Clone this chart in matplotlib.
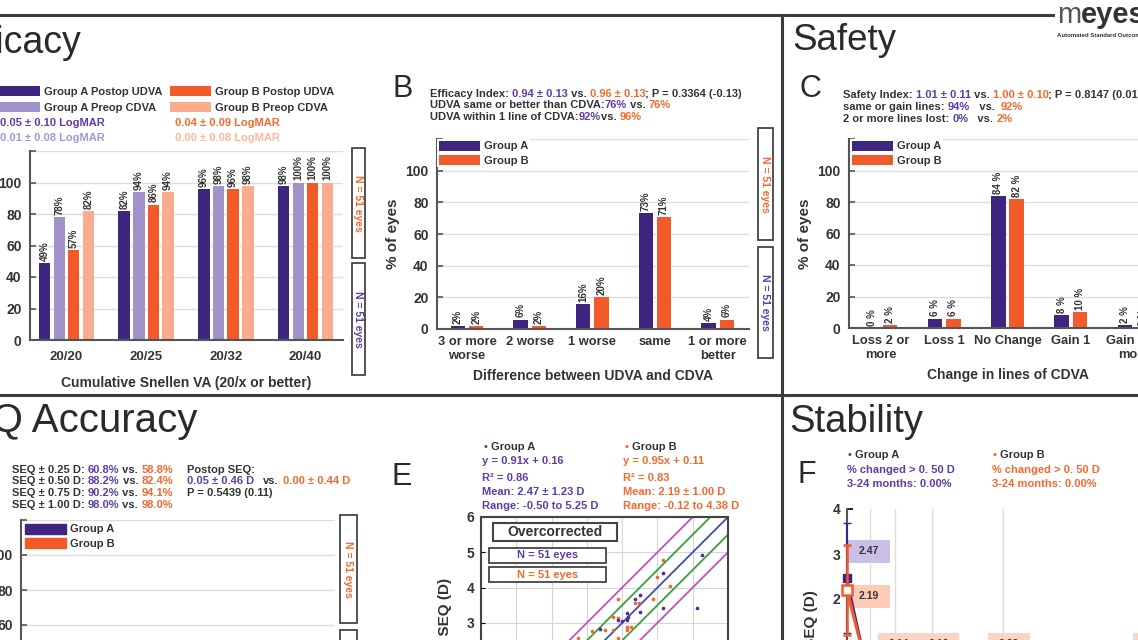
import numpy as np
import matplotlib.pyplot as plt
from matplotlib.patches import Rectangle, Patch

plt.rcParams['font.family'] = ['Liberation Sans', 'DejaVu Sans']
plt.rcParams['font.weight'] = 'bold'
plt.rcParams['axes.labelweight'] = 'bold'

W, H = 1138, 640

# ─── Data ──────────────────────────────────────────────────────────
snellen_cats = ['20/20', '20/25', '20/32', '20/40']
a_postop_udva = [49, 82, 96, 98]
a_preop_cdva = [78, 94, 98, 100]
b_postop_udva = [57, 86, 96, 100]
b_preop_cdva = [82, 94, 98, 100]

diff_cats = ['3 or more\nworse', '2 worse', '1 worse', 'same', '1 or more\nbetter']
diff_a = [2, 6, 16, 73, 4]
diff_b = [2, 2, 20, 71, 6]

cdva_cats = ['Loss 2 or\nmore', 'Loss 1', 'No Change', 'Gain 1', 'Gain 2 or\nmore']
cdva_a = [0, 6, 84, 8, 2]
cdva_b = [2, 6, 82, 10, 0]

# attempted vs achieved SEQ (visible part only)
e_a_att = [5.25, 4.15, 4.15, 5.13, 3.50, 3.36, 3.50, 3.13, 3.17, 3.14, 2.89, 2.37, 2.99]
e_a_ach = [4.92, 4.42, 3.41, 3.41, 3.79, 3.67, 3.32, 3.29, 3.18, 3.08, 3.08, 2.82, 3.04]
e_b_att = [4.15, 3.99, 4.37, 3.88, 2.87, 3.36, 3.49, 2.75, 2.89, 3.13, 3.24, 2.75,
           2.51, 2.14, 1.76, 2.89, 3.13]
e_b_ach = [4.78, 4.29, 4.04, 3.67, 3.67, 3.56, 3.56, 3.18, 3.15, 2.89, 2.89, 2.80,
           2.80, 2.78, 2.56, 2.56, 2.80]
e_band_offsets = [1.0, 0.5, 0.0, -0.5, -1.0]

# stability over time (months)
f_months = [0, 1, 3, 6, 12]
f_a_mean = [2.47, 0.11, 0.13, 0.20, 0.21]
f_a_sd = [1.23, 0.40, 0.41, 0.42, 0.44]
f_b_mean = [2.19, 0.14, 0.16, 0.23, 0.22]
f_b_sd = [1.00, 0.38, 0.40, 0.41, 0.44]
# ────────────────────────────────────────────────────────────────────

dark = '#333333'
frame = '#3c3c3c'
cA, cA2 = '#3d2580', '#a391c9'
cB, cB2 = '#f25a2a', '#fbab8e'
tA, tA2 = '#5e3ca6', '#a795d6'
tB, tB2 = '#f4682e', '#fbb79c'

fig = plt.figure(figsize=(W / 100, H / 100), dpi=100)
fig.patch.set_facecolor('white')

# overlay axes in pixel coordinates for frames and free text
ov = fig.add_axes([0, 0, 1, 1], zorder=10)
ov.set_xlim(0, W)
ov.set_ylim(H, 0)
ov.axis('off')


def add_ax(l, t, r, b):
    return fig.add_axes([l / W, 1 - b / H, (r - l) / W, (b - t) / H])


def rich(x, y, parts, size=8):
    t = None
    for p in parts:
        s, c = p[0], p[1]
        w = p[2] if len(p) > 2 else 'bold'
        if t is None:
            t = ov.text(x, y, s, color=c, fontsize=size, fontweight=w,
                        va='baseline', ha='left')
        else:
            t = ov.annotate(s, xy=(1, 0), xycoords=t, va='bottom', ha='left',
                            color=c, fontsize=size, fontweight=w)
    return t


def n_box(x0, y0, x1, y1, color):
    ov.add_patch(Rectangle((x0, y0), x1 - x0, y1 - y0, fc='white', ec='#444444', lw=1.3))
    ov.text((x0 + x1) / 2, (y0 + y1) / 2, 'N = 51 eyes', rotation=-90,
            ha='center', va='center', color=color, fontsize=7.5)


def bar_panel(ax, xlim):
    ax.set_xlim(*xlim)
    ax.set_ylim(0, 120)
    ax.set_yticks(np.arange(0, 121, 20))
    ax.set_yticklabels(['0', '20', '40', '60', '80', '100', ''])
    ax.grid(axis='y', color='#dddddd', lw=1.0)
    ax.set_axisbelow(True)
    ax.spines[['top', 'right']].set_visible(False)
    for s in ['left', 'bottom']:
        ax.spines[s].set_color('#555555')
        ax.spines[s].set_linewidth(1.5)
    ax.tick_params(axis='y', direction='in', length=4, width=1.2, color='#555555',
                   labelsize=10, labelcolor=dark, pad=6)
    ax.tick_params(axis='x', length=0, labelsize=9.3, labelcolor=dark, pad=5)


leg_kw = dict(fontsize=8, handlelength=3.7, handleheight=1.0, handletextpad=0.35,
              labelspacing=0.3, borderpad=0.15, borderaxespad=0, fancybox=False,
              framealpha=1, facecolor='white', edgecolor='none', labelcolor=dark,
              bbox_transform=ov.transData, loc='upper left')

# ─── Frames, titles, logo ───────────────────────────────────────────
ov.plot([0, 1053], [15, 15], color=frame, lw=2.2)
ov.plot([782, 782], [15, 640], color=frame, lw=2.2)
ov.plot([0, 1138], [395, 395], color=frame, lw=2.2)

for s, x, y, ha, fs in [('Efficacy', 82, 53, 'right', 27), ('Safety', 792, 50, 'left', 26.5),
                        ('SEQ Accuracy', 197, 432, 'right', 29), ('Stability', 789, 432, 'left', 27.5)]:
    ov.text(x, y, s, ha=ha, va='baseline', fontsize=fs, fontweight='normal', color='#2a2a2a')
for s, x, y in [('B', 393, 97), ('C', 800, 97), ('E', 392, 485), ('F', 798, 483)]:
    ov.text(x, y, s, ha='left', va='baseline', fontsize=22, fontweight='normal', color='#2a2a2a')

rich(1057, 23, [('m', '#555555', 'normal'), ('eyes', dark, 'bold')], size=21)
ov.text(1057, 36.5, 'Automated Standard Outcome Reporting', fontsize=4.3, color=dark,
        va='baseline')

# ─── A: cumulative Snellen ──────────────────────────────────────────
axA = add_ax(30, 151, 343, 340)
xa = np.arange(len(snellen_cats))
series = [(a_postop_udva, cA, 'Group A Postop UDVA'), (a_preop_cdva, cA2, 'Group A Preop CDVA'),
          (b_postop_udva, cB, 'Group B Postop UDVA'), (b_preop_cdva, cB2, 'Group B Preop CDVA')]
for (vals, col, lab), o in zip(series, [-0.275, -0.09, 0.09, 0.275]):
    bars = axA.bar(xa + o, vals, 0.145, color=col, label=lab)
    axA.bar_label(bars, labels=[f'{v}%' for v in vals], rotation=90, padding=1.5,
                  fontsize=7, color=dark)
axA.set_xticks(xa, snellen_cats)
bar_panel(axA, (-0.458, 3.47))
axA.tick_params(axis='x', pad=8, labelsize=9.5)
axA.set_xlabel('Cumulative Snellen VA (20/x or better)', fontsize=10, color=dark, labelpad=9)
axA.legend(bbox_to_anchor=(-1, 86.5), ncol=2, columnspacing=0.7,
           **{**leg_kw, 'framealpha': 0, 'borderpad': 0, 'labelspacing': 0.42})
ov.text(0, 126, '0.05 ± 0.10 LogMAR', color=tA, fontsize=8, va='baseline')
ov.text(0, 141, '0.01 ± 0.08 LogMAR', color=tA2, fontsize=8, va='baseline')
ov.text(175, 126, '0.04 ± 0.09 LogMAR', color=tB, fontsize=8, va='baseline')
ov.text(175, 141, '0.00 ± 0.08 LogMAR', color=tB2, fontsize=8, va='baseline')
n_box(352, 148, 365, 258, tB)
n_box(352, 263, 365, 375, tA)

# ─── B: UDVA vs CDVA ────────────────────────────────────────────────
axB = add_ax(437, 139, 749, 329)
xb = np.arange(len(diff_cats))
ba = axB.bar(xb - 0.145, diff_a, 0.23, color=cA, label='Group A')
bb = axB.bar(xb + 0.145, diff_b, 0.23, color=cB, label='Group B')
for bars, vals in [(ba, diff_a), (bb, diff_b)]:
    axB.bar_label(bars, labels=[f'{v}%' for v in vals], rotation=90, padding=1.5,
                  fontsize=7, color=dark)
axB.set_xticks(xb, diff_cats)
bar_panel(axB, (-0.48, 4.5))
axB.set_ylabel('% of eyes', fontsize=11, color=dark, labelpad=4)
axB.set_xlabel('Difference between UDVA and CDVA', fontsize=10, color=dark, labelpad=5)
axB.legend(bbox_to_anchor=(437, 139), **leg_kw)
rich(430, 97, [('Efficacy Index: ', dark), ('0.94 ± 0.13', tA), (' vs. ', dark),
               ('0.96 ± 0.13', tB), ('; P = 0.3364 (-0.13)', dark)])
rich(430, 108.5, [('UDVA same or better than CDVA:', dark), ('76%', tA), (' vs. ', dark), ('76%', tB)])
rich(430, 120, [('UDVA within 1 line of CDVA:', dark), ('92%', tA), ('vs. ', dark), ('96%', tB)])
n_box(758, 128, 773, 240, tB)
n_box(758, 247, 773, 358, tA)

# ─── C: change in CDVA lines ────────────────────────────────────────
axC = add_ax(849, 139, 1166, 328)
xc = np.arange(len(cdva_cats))
ca = axC.bar(xc - 0.145, cdva_a, 0.23, color=cA, label='Group A')
cb = axC.bar(xc + 0.145, cdva_b, 0.23, color=cB, label='Group B')
for bars, vals in [(ca, cdva_a), (cb, cdva_b)]:
    axC.bar_label(bars, labels=[f'{v} %' for v in vals], rotation=90, padding=1.5,
                  fontsize=7, color=dark)
axC.set_xticks(xc, cdva_cats)
bar_panel(axC, (-0.5, 4.5))
axC.set_ylabel('% of eyes', fontsize=11, color=dark, labelpad=4)
axC.set_xlabel('Change in lines of CDVA', fontsize=10, color=dark, labelpad=5)
axC.legend(bbox_to_anchor=(850, 139), **leg_kw)
rich(843, 98.5, [('Safety Index: ', dark), ('1.01 ± 0.11', tA), (' vs. ', dark),
                 ('1.00 ± 0.10', tB), ('; P = 0.8147 (0.01)', dark)])
rich(843, 110, [('same or gain lines: ', dark), ('94%', tA), ('   vs.  ', dark), ('92%', tB)])
rich(843, 121.5, [('2 or more lines lost: ', dark), ('0%', tA), ('   vs. ', dark), ('2%', tB)])

# ─── D: SEQ accuracy ────────────────────────────────────────────────
axD = add_ax(21, 520, 335, 730)
bar_panel(axD, (-0.5, 5.5))
axD.set_xticks([])
axD.legend(handles=[Patch(color=cA, label='Group A'), Patch(color=cB, label='Group B')],
           bbox_to_anchor=(23, 522), **leg_kw)
rich(12, 473, [('SEQ ± 0.25 D: ', dark), ('60.8%', tA), (' vs. ', dark), ('58.8%', tB)])
rich(12, 484.5, [('SEQ ± 0.50 D: ', dark), ('88.2%', tA), (' vs. ', dark), ('82.4%', tB)])
rich(12, 496, [('SEQ ± 0.75 D: ', dark), ('90.2%', tA), (' vs. ', dark), ('94.1%', tB)])
rich(12, 507.5, [('SEQ ± 1.00 D: ', dark), ('98.0%', tA), (' vs. ', dark), ('98.0%', tB)])
ov.text(187, 473, 'Postop SEQ:', color=dark, fontsize=8, va='baseline')
ov.text(187, 484.5, '0.05 ± 0.46 D', color=tA, fontsize=8, va='baseline')
ov.text(263, 484.5, 'vs.', color=dark, fontsize=8, va='baseline')
ov.text(283, 484.5, '0.00 ± 0.44 D', color=tB, fontsize=8, va='baseline')
ov.text(187, 496, 'P = 0.5439 (0.11)', color=dark, fontsize=8, va='baseline')
n_box(340, 515, 357, 623, tB)
n_box(340, 630, 357, 745, tA)

# ─── E: attempted vs achieved ───────────────────────────────────────
axE = add_ax(481, 517, 728, 764)
line_x = np.array([-1.0, 6.0])
for off, col in zip(e_band_offsets, ['#c050c0', '#3a9e3a', '#3a4cc0', '#3a9e3a', '#c050c0']):
    axE.plot(line_x, line_x + off, color=col, lw=1.3)
axE.scatter(e_b_att, e_b_ach, s=7, color=tB, zorder=3, linewidths=0)
axE.scatter(e_a_att, e_a_ach, s=7, color='#4b2ea0', zorder=3, linewidths=0)
axE.set_xlim(-1, 6)
axE.set_ylim(-1, 6)
axE.set_xticks(range(-1, 7))
axE.set_yticks(range(-1, 7))
axE.grid(color='#d5d5d5', lw=0.8)
axE.set_axisbelow(True)
for s in axE.spines.values():
    s.set_color('#444444')
    s.set_linewidth(1.5)
axE.tick_params(direction='in', length=3, labelsize=10, labelcolor=dark, pad=5)
ov.text(445, 578, 'Achieved SEQ (D)', rotation=90, ha='center', va='top', fontsize=11, color=dark)
for x0, col, grp, txt in [(482, tA, 'Group A', ['y = 0.91x + 0.16', 'R² = 0.86', 'Mean: 2.47 ± 1.23 D',
                                               'Range: -0.50 to 5.25 D']),
                          (623, tB, 'Group B', ['y = 0.95x + 0.11', 'R² = 0.83', 'Mean: 2.19 ± 1.00 D',
                                               'Range: -0.12 to 4.38 D'])]:
    rich(x0 + 2, 450, [('• ', col), (grp, dark)])
    for i, s in enumerate(txt):
        ov.text(x0, [464, 481, 495, 509][i], s, color=col, fontsize=8, va='baseline')
ov.add_patch(Rectangle((493, 523), 124, 18, fc='white', ec='#444444', lw=1.5))
ov.text(555, 532.5, 'Overcorrected', ha='center', va='center', fontsize=10, color=dark)
for y0, col in [(548, tA), (567, tB)]:
    ov.add_patch(Rectangle((489, y0), 117, 14.5, fc='white', ec='#444444', lw=1.3))
    ov.text(547.5, y0 + 7.5, 'N = 51 eyes', ha='center', va='center', fontsize=8, color=col)

# ─── F: stability ───────────────────────────────────────────────────
axF = add_ax(847, 509, 1164, 734)
ebA = axF.errorbar(f_months, f_a_mean, yerr=f_a_sd, color=cA, lw=1.3, elinewidth=1.5, capsize=3,
                   marker='s', ms=6, mfc=cA, mec=cA, zorder=3)
ebB = axF.errorbar(f_months, f_b_mean, yerr=f_b_sd, color=cB, lw=2.2, elinewidth=1.8, capsize=3,
                   marker='s', ms=6.5, mfc='white', mec=cB, mew=1.8, zorder=4)
for eb in (ebA, ebB):
    for art in eb.get_children():
        art.set_clip_on(False)
axF.set_xlim(0, 13.5)
axF.set_ylim(-1, 4)
axF.set_yticks(range(-1, 5))
axF.set_xticks([1, 2.05, 3.6, 6.65], labels=[])
axF.grid(axis='x', color='#dddddd', lw=1.0)
axF.set_axisbelow(True)
axF.spines[['top', 'right', 'bottom']].set_visible(False)
axF.spines['left'].set_color('#555555')
axF.spines['left'].set_linewidth(1.5)
axF.tick_params(axis='y', direction='in', length=4, width=1.2, labelsize=10, labelcolor=dark, pad=5)
axF.tick_params(axis='x', length=0)
# value boxes
box_w, box_h = 1.79, 0.51
for x0, yc, v, fc in [(0.05, 3.06, f_a_mean[0], '#cbbfe6'), (0.05, 2.06, f_b_mean[0], '#fdcbb8')]:
    axF.add_patch(Rectangle((x0, yc - box_h / 2), box_w, box_h, fc=fc, ec='none', zorder=2))
    axF.text(x0 + box_w / 2, yc, f'{v:.2f}', ha='center', va='center', fontsize=7.5, color=dark, zorder=5)
for x0, v in zip([1.32, 3.0, 6.0, 12.17], f_b_mean[1:]):
    axF.add_patch(Rectangle((x0, 0.99 - box_h / 2), box_w, box_h, fc='#fdd3c3', ec='none', zorder=2))
    axF.text(x0 + box_w / 2, 0.99, f'{v:.2f}', ha='center', va='center', fontsize=7.5, color=dark, zorder=5)
ov.text(811, 590, 'Mean SEQ (D)', rotation=90, ha='center', va='top', fontsize=11, color=dark)
for x0, col, grp in [(847, tA, 'Group A'), (992, tB, 'Group B')]:
    rich(x0 + 1, 458, [('• ', col), (grp, dark)])
    ov.text(x0, 473, '% changed > 0. 50 D', color=col, fontsize=8, va='baseline')
    ov.text(x0, 487, '3-24 months: 0.00%', color=col, fontsize=8, va='baseline')

fig.savefig('out.png', dpi=100)
